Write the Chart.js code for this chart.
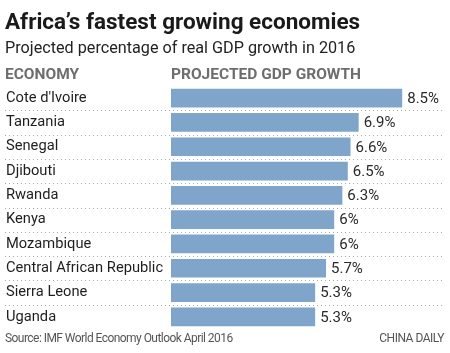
<!DOCTYPE html>
<html>
<head>
<meta charset="utf-8">
<script src="https://cdn.jsdelivr.net/npm/chart.js@4"></script>
<style>
  html, body { margin: 0; padding: 0; background: #fff; }
  #wrap { position: relative; width: 450px; height: 353px; overflow: hidden; font-family: Roboto, "Noto Sans", sans-serif; }
  #wrap canvas { position: absolute; left: 0; top: 0; }
  .txt { position: absolute; white-space: nowrap; }
  #title { left: 5px; top: 8px; font-size: 22.5px; font-weight: bold; color: #1a1a1a; }
  #subtitle { left: 5px; top: 38px; font-size: 16.2px; color: #222; }
  .head { top: 65px; font-size: 15.5px; font-weight: bold; color: #6e6e6e; }
  #source { left: 5px; top: 331px; font-size: 12px; color: #555; letter-spacing: -0.55px; }
  #brand { right: 6px; top: 331px; font-size: 12px; color: #555; letter-spacing: -0.5px; }
</style>
</head>
<body>
<div id="wrap">
  <canvas id="gdpChart" width="450" height="353"></canvas>
  <div class="txt" id="title">Africa’s fastest growing economies</div>
  <div class="txt" id="subtitle">Projected percentage of real GDP growth in 2016</div>
  <div class="txt head" style="left:5px">ECONOMY</div>
  <div class="txt head" style="left:171px">PROJECTED GDP GROWTH</div>
  <div class="txt" id="source">Source: IMF World Economy Outlook April 2016</div>
  <div class="txt" id="brand">CHINA DAILY</div>
</div>
<script>
// 国名とGDP成長率（%）
const countries = ['Cote d\'Ivoire', 'Tanzania', 'Senegal', 'Djibouti', 'Rwanda', 'Kenya', 'Mozambique', 'Central African Republic', 'Sierra Leone', 'Uganda'];
const growth = [8.5, 6.9, 6.6, 6.5, 6.3, 6, 6, 5.7, 5.3, 5.3];
const valueLabels = ['8.5%', '6.9%', '6.6%', '6.5%', '6.3%', '6%', '6%', '5.7%', '5.3%', '5.3%'];

// 行の間の点線（キャンバス幅いっぱい）
const rowLines = {
    id: 'rowLines',
    beforeDatasetsDraw(chart) {
        const y = chart.scales.y;
        const ctx = chart.ctx;
        ctx.save();
        ctx.strokeStyle = '#a8a8a8';
        ctx.lineWidth = 1;
        ctx.setLineDash([1, 3]);
        for (let i = 0; i < countries.length - 1; i++) {
            const py = Math.round((y.getPixelForValue(i) + y.getPixelForValue(i + 1)) / 2) + 0.5;
            ctx.beginPath();
            ctx.moveTo(5, py);
            ctx.lineTo(445, py);
            ctx.stroke();
        }
        ctx.restore();
    }
};

// バーの右側に数値ラベル
const barValues = {
    id: 'barValues',
    afterDatasetsDraw(chart) {
        const ctx = chart.ctx;
        const meta = chart.getDatasetMeta(0);
        ctx.save();
        ctx.font = '15px Roboto';
        ctx.fillStyle = '#2a2a2a';
        ctx.textBaseline = 'middle';
        ctx.textAlign = 'left';
        meta.data.forEach((bar, i) => {
            ctx.fillText(valueLabels[i], bar.x + 5, bar.y + 1);
        });
        ctx.restore();
    }
};

const ctx = document.getElementById('gdpChart').getContext('2d');
new Chart(ctx, {
    type: 'bar',
    data: {
        labels: countries,
        datasets: [{
            data: growth,
            backgroundColor: '#7fa6ca',
            borderWidth: 0,
            barPercentage: 0.77,
            categoryPercentage: 1
        }]
    },
    options: {
        indexAxis: 'y',
        responsive: false,
        animation: false,
        layout: { padding: { left: 6, right: 7, top: 86, bottom: 24 } },
        plugins: {
            legend: { display: false },
            tooltip: { enabled: false }
        },
        scales: {
            x: {
                display: false,
                min: 0,
                max: 10
            },
            y: {
                grid: { display: false, drawTicks: false },
                border: { display: false },
                afterFit(scale) { scale.width = 165; },
                ticks: {
                    crossAlign: 'far',
                    padding: 0,
                    color: '#1e1e1e',
                    font: { family: 'Roboto', size: 14.7 }
                }
            }
        }
    },
    plugins: [rowLines, barValues]
});
</script>
</body>
</html>
